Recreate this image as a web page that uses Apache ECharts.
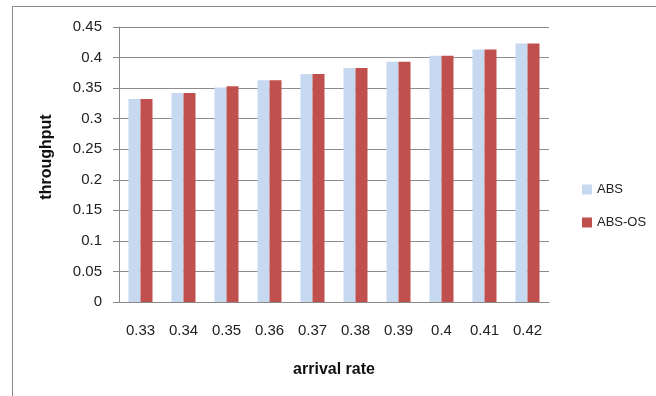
<!DOCTYPE html>
<html>
<head>
<meta charset="utf-8">
<script src="https://cdn.jsdelivr.net/npm/echarts@6/dist/echarts.min.js"></script>
<style>
  html, body { margin: 0; padding: 0; background: #fff; }
  #chart { width: 656px; height: 396px; }
</style>
</head>
<body>
<div id="chart"></div>
<script>
// Arrival rates on the x axis
const categories = ['0.33', '0.34', '0.35', '0.36', '0.37', '0.38', '0.39', '0.4', '0.41', '0.42'];
// Throughput per scheme
const absValues   = [0.332, 0.342, 0.351, 0.363, 0.373, 0.383, 0.393, 0.403, 0.413, 0.423];
const absOsValues = [0.332, 0.342, 0.353, 0.363, 0.373, 0.383, 0.393, 0.403, 0.413, 0.423];
const seriesNames = ['ABS', 'ABS-OS'];

const FONT = '"Liberation Sans", Arial, sans-serif';
const chart = echarts.init(document.getElementById('chart'), null, { renderer: 'canvas' });

chart.setOption({
  animation: false,
  backgroundColor: '#fff',
  graphic: [{
    type: 'rect',
    shape: { x: 12.5, y: 6.5, width: 700, height: 450 },
    style: { fill: 'none', stroke: '#8a8a8a', lineWidth: 1 },
    silent: true
  }],
  grid: { left: 119, right: 107, top: 27, bottom: 94 },
  legend: {
    orient: 'vertical',
    left: 577,
    top: 178,
    itemWidth: 10,
    itemHeight: 10,
    itemGap: 20,
    icon: 'rect',
    textStyle: { fontFamily: FONT, fontSize: 13, color: '#222' },
    data: seriesNames
  },
  xAxis: {
    type: 'category',
    data: categories,
    name: 'arrival rate',
    nameLocation: 'middle',
    nameGap: 60,
    nameTextStyle: { fontFamily: FONT, fontSize: 16, fontWeight: 'bold', color: '#111' },
    axisLine: { lineStyle: { color: '#888' } },
    axisTick: { show: false },
    axisLabel: { fontFamily: FONT, fontSize: 15, color: '#222', margin: 21 }
  },
  yAxis: {
    type: 'value',
    min: 0,
    max: 0.45,
    interval: 0.05,
    name: 'throughput',
    nameLocation: 'middle',
    nameGap: 64,
    nameRotate: 90,
    nameTextStyle: {
      fontFamily: FONT, fontSize: 16, fontWeight: 'bold', color: '#111',
      padding: [0, 0, 0, 15]
    },
    axisLine: { show: true, lineStyle: { color: '#888' } },
    axisTick: { show: true, length: 6, lineStyle: { color: '#888' } },
    axisLabel: {
      fontFamily: FONT, fontSize: 15, color: '#222', margin: 17,
      formatter: v => String(Math.round(v * 100) / 100)
    },
    splitLine: { lineStyle: { color: '#8c8c8c', width: 1 } }
  },
  series: [
    {
      name: seriesNames[0],
      type: 'bar',
      data: absValues,
      barWidth: 12,
      barGap: '0%',
      itemStyle: { color: '#C6D9F1' }
    },
    {
      name: seriesNames[1],
      type: 'bar',
      data: absOsValues,
      barWidth: 12,
      barGap: '0%',
      itemStyle: { color: '#C0504D' }
    }
  ]
});
</script>
</body>
</html>
